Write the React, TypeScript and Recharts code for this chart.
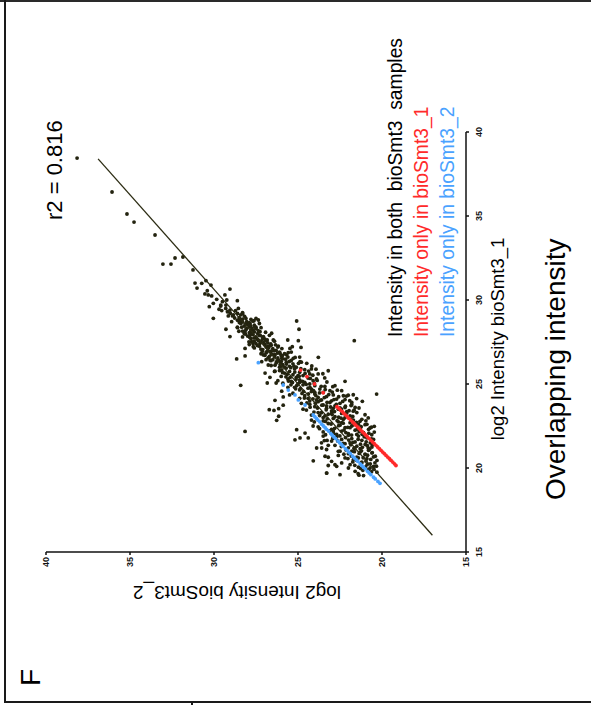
import { ScatterChart, Scatter, XAxis, YAxis } from 'recharts';

// Panel F is printed rotated a quarter turn (counter-clockwise); the chart is drawn
// upright at 705x591 and then turned with CSS so it reads like the figure.

const FONT = '"Liberation Sans", Arial, Helvetica, sans-serif';
const INK = '#23230f';
const RED = '#ff2a2a';
const BLUE = '#4aa2ff';

const xTicks = [15, 20, 25, 30, 35, 40];
const yTicks = [15, 20, 25, 30, 35, 40];

// [log2 bioSmt3_1, log2 bioSmt3_2] — proteins seen in both samples
const both = [
  [38.45, 38.15], [36.43, 36.07], [35.12, 35.18], [34.64, 34.76], [33.87, 33.51], [32.14, 33.04],
  [32.14, 32.56], [32.5, 32.32], [32.56, 31.85], [31.79, 31.25], [31.01, 31.13], [30.71, 31.01],
  [30.99, 30.73], [31.15, 30.48], [30.89, 30.18], [30.65, 29.05], [30.36, 30.54], [30.3, 30.34],
  [30.24, 30.14], [30.55, 30.4], [30.04, 29.84], [30.3, 29.35], [30.0, 29.24], [29.8, 30.04],
  [29.6, 30.28], [29.64, 29.6], [29.7, 29.29], [29.4, 29.05], [29.96, 28.61], [29.37, 29.54],
  [28.91, 30.04], [29.05, 29.15], [29.11, 28.85], [28.71, 28.95], [29.5, 28.55], [28.81, 28.45],
  [29.17, 28.29], [28.26, 29.29], [27.82, 29.05], [28.38, 28.61], [28.38, 28.35], [28.71, 28.05],
  [28.61, 27.86], [28.11, 28.15], [27.92, 27.86], [28.77, 27.62], [28.81, 27.36], [28.38, 27.5],
  [28.21, 27.66], [28.11, 27.26], [27.82, 27.06], [27.72, 27.46], [27.52, 27.76], [27.12, 28.15],
  [26.67, 28.15], [26.49, 28.65], [27.22, 27.66], [27.42, 27.26], [27.32, 26.96], [27.26, 26.77],
  [27.62, 26.83], [28.02, 26.57], [27.62, 26.47], [27.26, 26.17], [26.92, 26.67], [26.73, 27.06],
  [26.73, 26.37], [26.83, 26.07], [26.53, 25.97], [26.33, 26.27], [26.43, 26.67], [26.33, 27.16],
  [26.13, 26.77], [26.07, 25.97],
  [28.75, 25.08], [28.26, 24.94], [27.62, 25.61], [27.58, 24.98], [27.18, 24.82], [27.22, 25.34],
  [27.12, 25.48], [26.59, 23.79], [27.58, 21.65], [26.23, 24.48], [26.07, 24.18], [26.73, 25.67],
  [26.53, 25.28], [26.33, 24.88],
  [24.92, 28.41], [22.18, 28.15], [25.65, 26.96], [25.06, 26.83], [24.03, 26.37], [23.47, 26.71],
  [23.43, 26.43], [23.53, 26.15], [23.08, 26.15], [22.84, 26.27], [24.57, 25.97], [24.23, 25.88],
  [23.74, 25.88], [25.06, 26.3], [25.4, 26.67], [25.76, 26.37],
  [25.16, 22.2], [24.4, 20.32], [25.79, 23.2], [19.7, 23.29], [19.57, 21.37], [20.0, 20.71],
  [21.39, 20.58], [22.48, 20.46], [22.14, 20.46], [22.98, 20.82], [23.17, 21.01], [23.97, 21.17],
  [24.13, 21.51], [24.36, 21.71], [24.33, 22.01], [24.07, 22.2], [20.43, 24.09], [20.7, 23.39],
  [20.64, 23.2], [20.2, 22.8], [20.1, 22.7], [20.99, 22.6], [22.28, 25.08], [21.68, 25.18],
  [21.79, 24.88], [22.08, 24.58], [21.79, 24.39], [21.19, 23.89], [21.19, 23.59], [21.35, 23.2],
  [21.63, 23.43], [20.6, 21.41], [20.3, 21.21], [20.83, 21.01], [21.19, 20.82], [21.19, 21.61],
  [21.49, 21.9], [21.98, 20.61], [22.38, 20.71], [22.58, 21.01], [22.78, 21.31], [23.57, 21.37],
  [23.77, 21.8], [23.38, 21.71], [23.27, 22.1], [23.57, 22.5],
  // dense core
  [29.9, 29.5], [29.7, 29.6], [29.5, 29.3], [29.3, 29.2], [29.2, 28.6], [29.05, 28.9], [29.45, 29.7], [29.25, 28.3],
  [28.95, 28.5], [28.9, 28.1], [28.85, 27.8], [28.8, 28.6], [28.7, 28.3], [28.65, 27.9], [28.6, 28.4], [28.55, 28.0],
  [28.5, 27.6], [28.45, 28.2], [28.4, 27.9], [28.35, 28.6], [28.3, 27.5], [28.25, 28.1], [28.2, 27.8], [28.15, 28.3],
  [28.1, 27.6], [28.05, 27.9], [28.0, 28.2], [28.0, 27.4], [28.9, 27.5], [28.6, 27.3], [28.35, 27.2],
  [27.95, 27.7], [27.9, 27.3], [27.85, 28.0], [27.8, 27.5], [27.75, 27.1], [27.7, 27.8], [27.65, 27.4], [27.6, 26.9],
  [27.55, 27.6], [27.5, 27.2], [27.45, 26.8], [27.4, 27.5], [27.35, 27.0], [27.3, 26.6], [27.25, 27.3], [27.2, 26.9],
  [27.15, 27.6], [27.1, 26.5], [27.05, 27.1], [27.0, 26.8], [27.0, 26.3], [27.9, 26.7], [27.55, 26.4], [27.2, 26.2],
  [27.8, 28.3], [27.35, 27.9],
  [26.95, 26.6], [26.9, 26.1], [26.85, 26.9], [26.8, 25.8], [26.75, 26.4], [26.7, 26.0], [26.65, 26.7], [26.6, 25.6],
  [26.55, 26.2], [26.5, 25.9], [26.45, 26.5], [26.4, 25.4], [26.35, 26.0], [26.3, 25.7], [26.25, 26.3], [26.2, 25.3],
  [26.15, 25.9], [26.1, 26.6], [26.05, 25.5], [26.0, 26.1], [26.0, 25.1], [26.9, 25.4], [26.6, 24.9], [26.3, 24.8],
  [26.8, 27.2], [26.45, 26.9],
  [25.95, 25.7], [25.9, 25.2], [25.85, 24.6], [25.8, 26.1], [25.75, 25.5], [25.7, 24.9], [25.65, 25.8], [25.6, 24.3],
  [25.55, 25.3], [25.5, 24.7], [25.45, 26.0], [25.4, 25.1], [25.35, 24.4], [25.3, 25.6], [25.25, 24.9], [25.2, 24.1],
  [25.15, 25.4], [25.1, 24.6], [25.05, 25.9], [25.0, 24.3], [25.0, 25.0], [25.9, 24.2], [25.6, 23.8], [25.3, 23.9],
  [25.75, 26.4], [25.2, 26.2], [25.5, 25.0], [25.1, 24.9],
  [24.95, 24.7], [24.9, 24.0], [24.85, 23.4], [24.8, 25.2], [24.75, 24.4], [24.7, 23.7], [24.65, 24.9], [24.6, 23.1],
  [24.55, 24.2], [24.5, 23.5], [24.45, 25.3], [24.4, 24.0], [24.35, 22.9], [24.3, 24.6], [24.25, 23.3], [24.2, 23.8],
  [24.15, 24.9], [24.1, 22.7], [24.05, 23.6], [24.0, 24.3], [24.0, 23.0], [24.9, 22.8], [24.6, 22.4], [24.3, 22.3],
  [24.8, 25.6], [24.35, 25.5], [24.7, 24.2], [24.15, 24.4], [24.5, 24.0], [24.05, 23.9],
  [23.95, 23.8], [23.9, 23.1], [23.85, 22.5], [23.8, 24.3], [23.75, 23.5], [23.7, 22.8], [23.65, 24.0], [23.6, 22.2],
  [23.55, 23.3], [23.5, 22.6], [23.45, 24.5], [23.4, 23.0], [23.35, 22.1], [23.3, 23.8], [23.25, 22.4], [23.2, 23.2],
  [23.15, 24.2], [23.1, 21.9], [23.05, 22.8], [23.0, 23.5], [23.0, 22.2], [23.9, 21.8], [23.6, 21.6], [23.3, 21.5],
  [23.85, 24.8], [23.5, 24.7], [23.7, 23.3], [23.25, 23.0], [23.55, 22.9], [23.1, 23.4],
  [22.95, 22.9], [22.9, 22.3], [22.85, 21.7], [22.8, 23.5], [22.75, 22.6], [22.7, 21.9], [22.65, 23.2], [22.6, 21.4],
  [22.55, 22.5], [22.5, 21.8], [22.45, 23.8], [22.4, 22.2], [22.35, 21.3], [22.3, 23.0], [22.25, 21.6], [22.2, 22.4],
  [22.15, 23.5], [22.1, 21.1], [22.05, 22.0], [22.0, 22.7], [22.0, 21.5], [22.9, 21.2], [22.6, 20.9], [22.3, 20.8],
  [22.85, 24.2], [22.5, 24.1], [22.7, 22.4], [22.2, 22.9], [22.4, 21.9],
  [21.95, 22.0], [21.9, 21.4], [21.85, 22.7], [21.8, 20.9], [21.75, 21.8], [21.7, 22.4], [21.65, 21.2], [21.6, 23.0],
  [21.55, 21.6], [21.5, 20.7], [21.45, 22.2], [21.4, 21.0], [21.35, 22.8], [21.3, 21.5], [21.25, 20.6], [21.2, 22.0],
  [21.15, 21.3], [21.1, 23.3], [21.05, 20.8], [21.0, 21.8], [21.0, 22.5], [21.9, 23.5], [21.5, 23.6], [21.7, 20.5],
  [20.95, 21.3], [20.9, 20.6], [20.85, 22.0], [20.8, 21.0], [20.75, 22.6], [20.7, 20.4], [20.65, 21.5], [20.6, 22.2],
  [20.55, 20.9], [20.5, 21.7], [20.45, 20.3], [20.4, 23.0], [20.35, 21.2], [20.3, 22.4], [20.25, 20.7], [20.2, 21.9],
  [20.15, 23.2], [20.1, 20.5], [20.05, 21.4], [20.0, 22.0],
  [19.9, 20.8], [19.8, 21.6], [19.75, 20.3], [19.6, 22.5], [19.55, 21.1], [19.7, 23.3],
  // second pass over the dark core
  [29.37, 28.72], [29.12, 28.41], [28.93, 28.77], [28.74, 27.68], [28.66, 28.49], [28.47, 27.83], [28.29, 28.06],
  [28.18, 27.37], [28.03, 27.71], [27.97, 28.13], [27.88, 27.24], [27.74, 27.62], [27.68, 26.98], [27.59, 27.35],
  [27.51, 27.92], [29.21, 29.03], [28.57, 28.14], [28.42, 27.58], [28.08, 26.93], [27.77, 27.87], [28.86, 28.31],
  [28.14, 28.52], [27.63, 27.14], [29.03, 28.18], [28.33, 27.74],
  [27.46, 27.03], [27.38, 26.62], [27.29, 27.41], [27.17, 26.74], [27.08, 27.21], [26.98, 26.43], [26.91, 26.87],
  [26.84, 26.22], [26.77, 26.58], [26.69, 25.93], [26.62, 26.41], [26.56, 26.78], [26.48, 25.74], [26.41, 26.16],
  [26.34, 25.52], [26.27, 26.03], [26.19, 25.68], [26.12, 26.37], [26.06, 25.24], [26.01, 25.81], [27.33, 26.34],
  [27.11, 25.96], [26.87, 25.58], [26.58, 25.17], [26.23, 24.97], [27.41, 27.68], [26.95, 27.12], [26.71, 26.97],
  [26.39, 26.61], [26.16, 26.06],
  [25.97, 25.43], [25.91, 24.83], [25.84, 25.96], [25.77, 24.37], [25.71, 25.19], [25.63, 24.58], [25.58, 25.64],
  [25.52, 24.12], [25.46, 24.93], [25.39, 25.47], [25.33, 24.27], [25.27, 25.12], [25.21, 23.86], [25.16, 24.73],
  [25.09, 25.33], [25.03, 24.03], [24.98, 24.51], [24.91, 25.07], [24.86, 23.62], [24.79, 24.28], [24.73, 24.86],
  [24.67, 23.38], [24.61, 24.08], [24.56, 24.67], [24.52, 22.96], [25.88, 23.93], [25.61, 23.52], [25.36, 23.41],
  [25.12, 23.28], [24.84, 22.93], [24.63, 22.66], [25.68, 25.92], [25.43, 25.72], [25.18, 25.57], [24.95, 25.42],
  [24.71, 25.14],
  [24.47, 23.72], [24.41, 24.38], [24.37, 23.17], [24.31, 23.94], [24.24, 22.58], [24.19, 23.43], [24.12, 24.11],
  [24.07, 22.86], [24.02, 23.68], [23.96, 22.34], [23.91, 23.27], [23.86, 23.97], [23.79, 22.72], [23.74, 23.58],
  [23.68, 22.18], [23.63, 23.06], [23.57, 23.84], [23.51, 22.41], [23.46, 23.32], [23.41, 21.96], [23.36, 22.83],
  [23.29, 23.61], [23.23, 22.22], [23.18, 22.97], [23.12, 23.71], [23.07, 21.74], [23.02, 22.58], [24.28, 22.12],
  [24.01, 21.92], [23.72, 21.84], [23.44, 21.66], [24.44, 24.76], [24.16, 24.62], [23.88, 24.47], [23.62, 24.28],
  [23.33, 24.05],
  [22.97, 22.44], [22.93, 23.26], [22.88, 21.83], [22.82, 22.67], [22.77, 23.37], [22.72, 21.52], [22.67, 22.31],
  [22.62, 23.03], [22.57, 21.72], [22.52, 22.58], [22.46, 21.24], [22.42, 22.04], [22.36, 22.82], [22.31, 21.47],
  [22.26, 22.26], [22.21, 23.11], [22.16, 21.36], [22.11, 22.15], [22.06, 22.88], [22.01, 21.18], [21.96, 21.81],
  [21.91, 22.51], [21.86, 21.06], [21.81, 22.17], [21.76, 22.93], [21.71, 21.42], [21.66, 21.98], [21.61, 22.64],
  [21.56, 20.94], [21.52, 21.73], [22.81, 20.96], [22.43, 20.63], [22.07, 20.78], [21.73, 20.62], [22.74, 24.03],
  [22.34, 23.72], [21.98, 23.36], [21.64, 23.27],
  [21.47, 22.31], [21.42, 21.28], [21.38, 21.86], [21.33, 20.87], [21.28, 22.42], [21.23, 21.17], [21.17, 21.67],
  [21.12, 20.74], [21.07, 22.14], [21.02, 21.22], [20.97, 21.64], [20.92, 20.58], [20.87, 21.36], [20.82, 22.27],
  [20.76, 20.86], [20.71, 21.83], [20.66, 20.51], [20.61, 21.12], [20.56, 22.03], [20.51, 20.67], [20.46, 21.51],
  [20.41, 20.96], [20.36, 21.74], [20.31, 20.42], [20.26, 21.26], [20.21, 20.88], [20.16, 21.62], [20.11, 20.33],
  [20.06, 20.97], [19.98, 21.28], [19.93, 20.48], [19.86, 21.14], [19.78, 20.62], [19.66, 21.42],
];

// intensity only in bioSmt3_1 (red)
const only1 = [
  [25.83, 24.85], [25.44, 24.47], [25.0, 24.02], [24.48, 23.5],
  [23.65, 22.68], [23.55, 22.57], [23.45, 22.48], [23.35, 22.36], [23.25, 22.27], [23.15, 22.16],
  [23.05, 22.06], [22.95, 21.97], [22.85, 21.86], [22.75, 21.76], [22.65, 21.66], [22.55, 21.56],
  [22.45, 21.46], [22.35, 21.36], [22.25, 21.26], [22.15, 21.16], [22.05, 21.06], [21.95, 20.96],
  [21.85, 20.86], [21.75, 20.76], [21.65, 20.66], [21.55, 20.56], [21.45, 20.46], [21.35, 20.36],
  [21.25, 20.26], [21.15, 20.16], [21.05, 20.06], [20.95, 19.96], [20.85, 19.86], [20.75, 19.76],
  [20.65, 19.66], [20.55, 19.56], [20.45, 19.46], [20.35, 19.36], [20.25, 19.26], [20.15, 19.17],
];

// intensity only in bioSmt3_2 (blue)
const only2 = [
  [26.27, 27.36], [24.94, 25.88], [24.64, 25.58], [24.35, 25.18], [24.05, 24.98], [23.75, 24.58],
  [23.16, 24.09], [23.05, 24.0], [22.95, 23.9], [22.85, 23.82], [22.75, 23.7], [22.6, 23.58],
  [22.5, 23.48], [22.4, 23.38], [22.3, 23.3], [22.2, 23.18], [22.05, 23.05], [21.95, 22.96],
  [21.85, 22.86], [21.75, 22.76], [21.6, 22.62], [21.5, 22.52], [21.4, 22.42], [21.3, 22.32],
  [21.15, 22.18], [21.05, 22.08], [20.95, 21.98], [20.85, 21.88], [20.7, 21.74], [20.6, 21.64],
  [20.5, 21.54], [20.4, 21.44], [20.25, 21.3], [20.15, 21.2], [20.05, 21.1], [19.95, 21.0],
  [19.8, 20.86], [19.7, 20.76], [19.6, 20.66], [19.45, 20.5], [19.35, 20.4], [19.2, 20.24], [19.09, 20.12],
];

// ends of the fitted line
const fit = [[16.0, 17.0], [38.4, 36.9]];

const pts = (a: number[][]) => a.map(([x, y]) => ({ x, y }));

const dot = (fill: string) => (p: any) => <circle cx={p.cx} cy={p.cy} r={1.9} fill={fill} />;

const axisStyle = { stroke: '#111', strokeWidth: 1.5 };
const tickStyle = { fontSize: 9, fontWeight: 700, fill: '#111', fontFamily: FONT };

export default function App() {
  return (
    <div style={{ position: 'absolute', left: 0, top: 0, width: 591, height: 705, background: '#fff', overflow: 'hidden' }}>
      {/* frame of the figure panel */}
      <div style={{ position: 'absolute', left: 0, top: 0, width: 591, height: 2, background: '#2a2a2a' }} />
      <div style={{ position: 'absolute', left: 4, top: 0, width: 2, height: 703, background: '#1a1a1a' }} />
      <div style={{ position: 'absolute', left: 4, top: 701, width: 587, height: 2, background: '#1a1a1a' }} />
      <div style={{ position: 'absolute', left: 191, top: 703, width: 2, height: 2, background: '#1a1a1a' }} />

      <div style={{
        position: 'absolute', left: 0, top: 0, width: 705, height: 591,
        transformOrigin: '0 0', transform: 'translateY(705px) rotate(-90deg)',
      }}>
        <ScatterChart width={705} height={591} margin={{ top: 46, right: 132, bottom: 95, left: 93 }}>
          <XAxis
            type="number" dataKey="x" domain={[15, 40]} ticks={xTicks} allowDataOverflow
            height={30} tickSize={3} tickMargin={7}
            axisLine={axisStyle} tickLine={axisStyle} tick={tickStyle}
          />
          <YAxis
            type="number" dataKey="y" domain={[15, 40]} ticks={yTicks} allowDataOverflow
            width={60} tickSize={3} tickMargin={2}
            axisLine={axisStyle} tickLine={axisStyle} tick={tickStyle}
          />
          <Scatter data={pts(both)} shape={dot(INK)} isAnimationActive={false} />
          <Scatter data={pts(only2)} shape={dot(BLUE)} isAnimationActive={false} />
          <Scatter data={pts(only1)} shape={dot(RED)} isAnimationActive={false} />
          <Scatter
            data={pts(fit)} line={{ stroke: '#2b2b12', strokeWidth: 1.3 }}
            shape={() => <g />} isAnimationActive={false}
          />
        </ScatterChart>

        <svg width={705} height={591} style={{ position: 'absolute', left: 0, top: 0, pointerEvents: 'none' }}
          fontFamily={FONT}>
          <text x={19} y={40} fontSize={28} fill="#000">F</text>
          <text x={485} y={62} fontSize={22} fill="#000">r2 = 0.816</text>
          <text x={368} y={402} fontSize={19.3} fill="#000">
            {'Intensity in both\u00a0\u00a0bioSmt3\u00a0\u00a0samples'}
          </text>
          <text x={368} y={428} fontSize={19.3} fill={RED}>Intensity only in bioSmt3_1</text>
          <text x={368} y={454} fontSize={19.3} fill={BLUE}>Intensity only in bioSmt3_2</text>
          <text x={366} y={504} fontSize={18.5} fill="#000" textAnchor="middle">log2 Intensity bioSmt3_1</text>
          <text x={119} y={237} fontSize={19} fill="#000" textAnchor="middle" transform="rotate(-90 119 237)">
            log2 Intensity bioSmt3_2
          </text>
          <text x={205} y={565} fontSize={28} fill="#000">Overlapping intensity</text>
        </svg>
      </div>
    </div>
  );
}
